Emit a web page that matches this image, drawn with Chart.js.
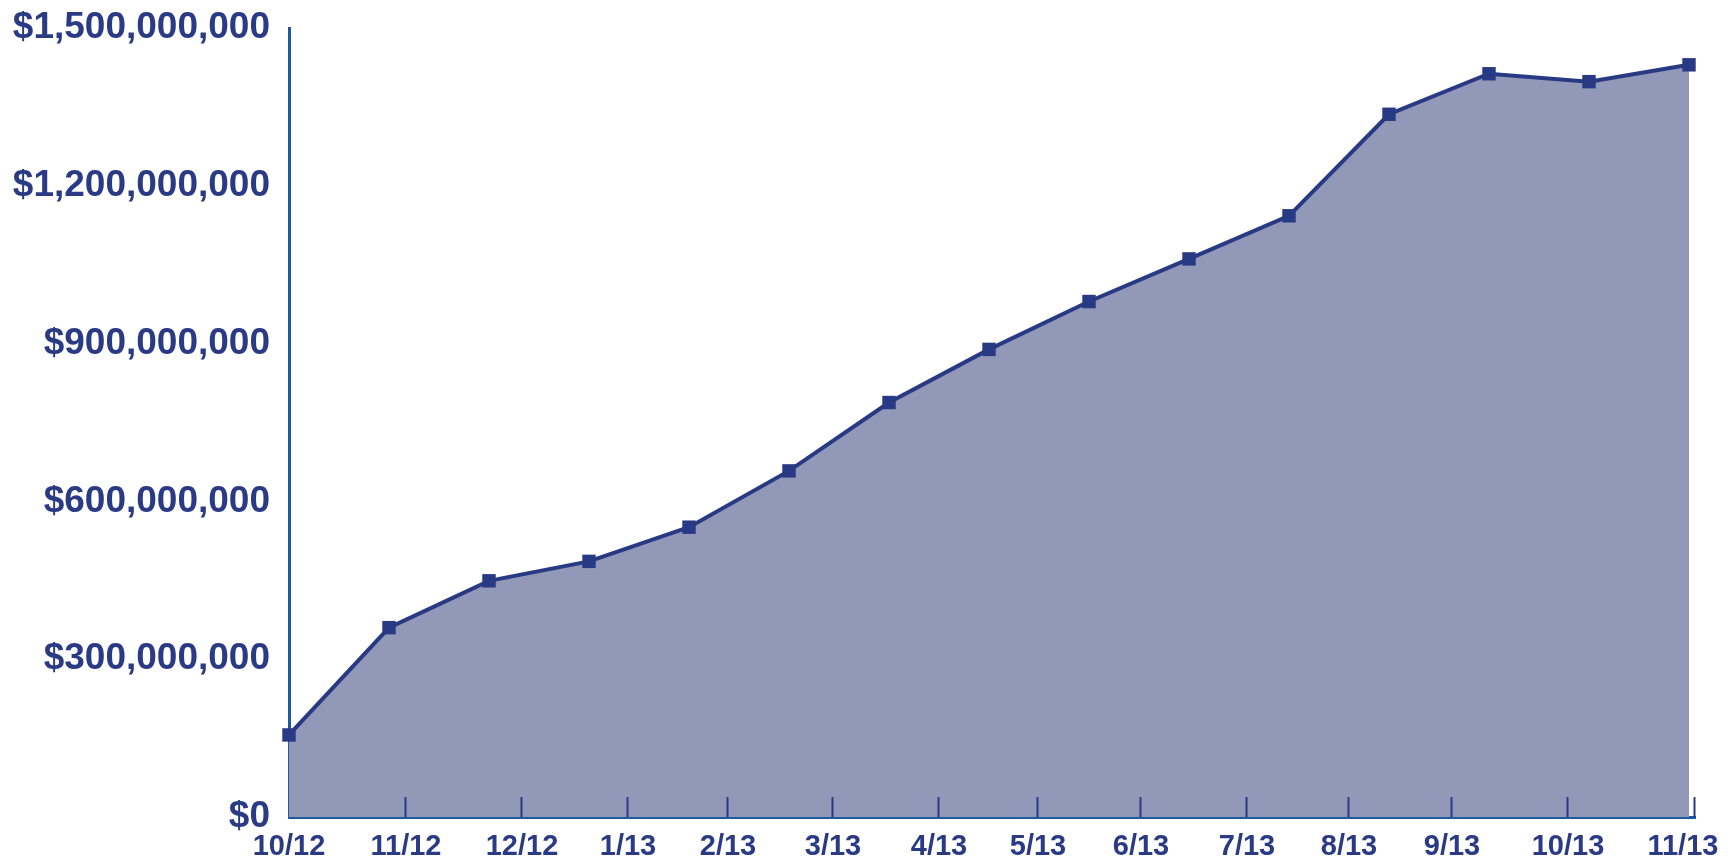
<!DOCTYPE html>
<html lang="en">
<head>
    <meta charset="UTF-8">
    <title>Cumulative Value 10/12 - 11/13</title>
    <style>
        * { margin: 0; padding: 0; box-sizing: border-box; }
        body { background: #ffffff; width: 1730px; height: 858px; overflow: hidden; }
        #wrap { width: 1730px; height: 858px; }
    </style>
</head>
<body>
    <div id="wrap"><canvas id="chart" width="1730" height="858"></canvas></div>

    <script src="https://cdn.jsdelivr.net/npm/chart.js"></script>
    <script>
        // point positions along the x axis (one per period) and values in dollars
        const pointX = [0, 1, 2, 3, 4, 5, 6, 7, 8, 9, 10, 11, 12, 13, 14];
        const values = [156e6, 360e6, 449e6, 486e6, 551e6, 658e6, 788e6, 889e6, 980e6, 1061e6, 1143e6, 1336e6, 1413e6, 1398e6, 1430e6];

        // month tick labels and where they sit on the same x axis
        const monthLabels = ['10/12', '11/12', '12/12', '1/13', '2/13', '3/13', '4/13', '5/13', '6/13', '7/13', '8/13', '9/13', '10/13', '11/13'];
        const monthPos = [0, 1.17, 2.33, 3.39, 4.39, 5.44, 6.50, 7.49, 8.52, 9.58, 10.60, 11.63, 12.79, 14.06];

        // y axis ticks
        const yTicks = [0, 300e6, 600e6, 900e6, 1200e6, 1500e6];

        const navy = '#283A84';
        const axisBlue = '#1E5AA0';
        const textBlue = '#2B3A84';

        // small tick marks pointing up into the plot from the bottom axis
        const innerTicks = {
            id: 'innerTicks',
            afterDatasetsDraw(chart) {
                const ctx = chart.ctx;
                const x = chart.scales.x;
                const bottom = chart.chartArea.bottom;
                ctx.save();
                ctx.strokeStyle = navy;
                ctx.lineWidth = 2;
                monthPos.forEach(function(p, i) {
                    if (i === 0) return;
                    const px = Math.round(x.getPixelForValue(p)) - 0.5;
                    ctx.beginPath();
                    ctx.moveTo(px, bottom);
                    ctx.lineTo(px, bottom - 20);
                    ctx.stroke();
                });
                ctx.restore();
            }
        };

        const ctx = document.getElementById('chart').getContext('2d');
        new Chart(ctx, {
            type: 'line',
            data: {
                datasets: [{
                    data: pointX.map((x, i) => ({ x: x, y: values[i] })),
                    borderColor: navy,
                    borderWidth: 4,
                    backgroundColor: '#9298B8',
                    fill: 'origin',
                    tension: 0,
                    pointStyle: 'rect',
                    pointRadius: 9.5,
                    pointBackgroundColor: navy,
                    pointBorderWidth: 0,
                    clip: false
                }]
            },
            options: {
                responsive: false,
                animation: false,
                events: [],
                layout: { padding: { top: 28, right: 35, left: 0, bottom: 0 } },
                plugins: {
                    legend: { display: false },
                    tooltip: { enabled: false }
                },
                scales: {
                    x: {
                        type: 'linear',
                        min: 0,
                        max: 14.06,
                        afterBuildTicks(scale) {
                            scale.ticks = monthPos.map(v => ({ value: v }));
                        },
                        afterFit(scale) {
                            scale.height = 41;
                            scale.paddingLeft = 0;
                            scale.paddingRight = 0;
                        },
                        grid: { display: false, drawTicks: false },
                        border: { display: true, color: axisBlue, width: 3 },
                        ticks: {
                            autoSkip: false,
                            maxRotation: 0,
                            padding: 13,
                            color: textBlue,
                            font: { family: "'Liberation Sans Narrow', 'Liberation Sans', Arial, sans-serif", size: 29, weight: 'bold' },
                            // last label sits a little left of the axis end, as in the original
                            callback: (v, i) => i === monthLabels.length - 1 ? monthLabels[i] + '   ' : monthLabels[i]
                        }
                    },
                    y: {
                        min: 0,
                        max: 1500e6,
                        afterBuildTicks(scale) {
                            scale.ticks = yTicks.map(v => ({ value: v }));
                        },
                        afterFit(scale) {
                            scale.width = 289;
                            scale.paddingTop = 0;
                            scale.paddingBottom = 0;
                        },
                        grid: { display: false, drawTicks: false },
                        border: { display: true, color: axisBlue, width: 3 },
                        ticks: {
                            padding: 19,
                            color: textBlue,
                            font: { family: "'Liberation Sans', Arial, sans-serif", size: 37, weight: 'bold' },
                            callback: v => '$' + v.toLocaleString('en-US')
                        }
                    }
                }
            },
            plugins: [innerTicks]
        });
    </script>
</body>
</html>
